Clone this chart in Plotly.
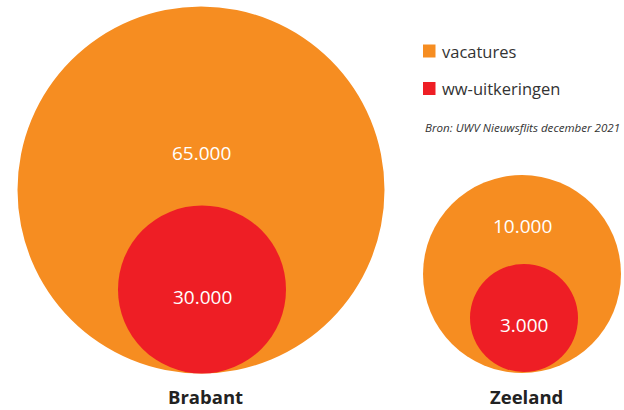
import plotly.graph_objects as go

# ---- data ----
regions = ["Brabant", "Zeeland"]
vacatures = [65000, 10000]
ww_uitkeringen = [30000, 3000]
series_names = ["vacatures", "ww-uitkeringen"]
source = "Bron: UWV Nieuwsflits december 2021"

# ---- styling / layout geometry (pixel space) ----
ORANGE = "#F68D21"
RED = "#EE1E25"
W, H = 624, 410
FONT = "Open Sans"

# circle geometry per region: (cx, cy, r) for outer and inner
outer_geom = [(201, 190, 183.5), (522, 274, 99)]
inner_geom = [(202, 289.5, 84), (524, 318, 54)]
value_label_y_outer = [153, 226]
label_y = 396

fig = go.Figure()
fig.add_trace(go.Scatter(x=[0, W], y=[0, H], mode="markers",
                         marker=dict(opacity=0), hoverinfo="skip", showlegend=False))

def fmt(v):
    return f"{v:,}".replace(",", ".")

shapes = []
annotations = []
for i, reg in enumerate(regions):
    cx, cy, r = outer_geom[i]
    shapes.append(dict(type="circle", xref="x", yref="y", x0=cx - r, x1=cx + r,
                       y0=cy - r, y1=cy + r, fillcolor=ORANGE, line=dict(width=0), layer="below"))
    icx, icy, ir = inner_geom[i]
    shapes.append(dict(type="circle", xref="x", yref="y", x0=icx - ir, x1=icx + ir,
                       y0=icy - ir, y1=icy + ir, fillcolor=RED, line=dict(width=0), layer="below"))
    annotations.append(dict(x=cx, y=value_label_y_outer[i], xref="x", yref="y",
                            text=fmt(vacatures[i]), showarrow=False,
                            font=dict(family=FONT, size=19, color="white")))
    annotations.append(dict(x=icx, y=icy + 7, xref="x", yref="y",
                            text=fmt(ww_uitkeringen[i]), showarrow=False,
                            font=dict(family=FONT, size=19, color="white")))
    annotations.append(dict(x=cx + 4, y=label_y, xref="x", yref="y",
                            text=f"<b>{reg}</b>", showarrow=False,
                            font=dict(family=FONT, size=18.5, color="#222222")))

# manual legend
leg_colors = [ORANGE, RED]
leg_y = [51, 88.5]
for name, col, ly in zip(series_names, leg_colors, leg_y):
    shapes.append(dict(type="rect", xref="x", yref="y", x0=423, x1=435.5,
                       y0=ly - 6.5, y1=ly + 6.5, fillcolor=col, line=dict(width=0)))
    annotations.append(dict(x=440, y=ly, xref="x", yref="y", text=name, showarrow=False,
                            xanchor="left", font=dict(family=FONT, size=16.5, color="#333333")))

annotations.append(dict(x=423, y=127, xref="x", yref="y", text=f"<i>{source}</i>",
                        showarrow=False, xanchor="left",
                        font=dict(family=FONT, size=11.6, color="#333333")))

fig.update_layout(
    width=W, height=H,
    margin=dict(l=0, r=0, t=0, b=0),
    paper_bgcolor="white", plot_bgcolor="white",
    xaxis=dict(range=[0, W], visible=False, fixedrange=True),
    yaxis=dict(range=[H, 0], visible=False, fixedrange=True),
    shapes=shapes, annotations=annotations, showlegend=False,
)

fig.write_html("out.html", config={"displayModeBar": False},
               post_script="document.body.style.margin='0';document.body.style.overflow='hidden';")
